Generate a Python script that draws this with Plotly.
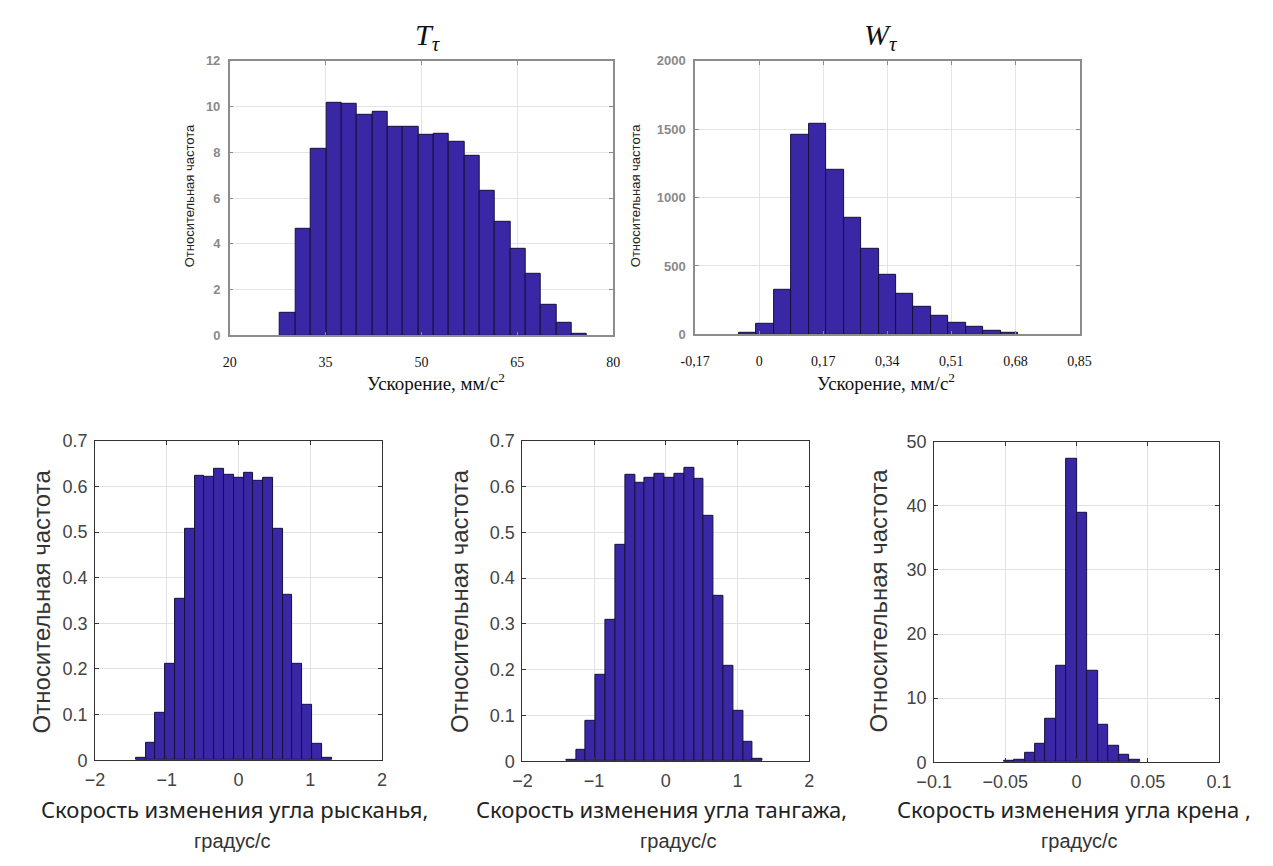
import plotly.graph_objects as go

W, H = 1273, 866

# --- histogram data: first bin edge, bin width, relative frequencies ---
t_start = 27.9
t_width = 2.4
t_freq = [1.0, 4.67, 8.16, 10.18, 10.14, 9.65, 9.75, 9.11, 9.11, 8.75,
          8.8, 8.46, 7.84, 6.31, 4.98, 3.77, 2.68, 1.34, 0.54, 0.06]

w_start = -0.0533
w_width = 0.0463
w_freq = [14, 79, 329, 1460, 1540, 1202, 852, 624, 433, 300,
          200, 136, 86, 52, 26, 10]

yaw_start = -1.43
yaw_width = 0.1365
yaw_freq = [0.005, 0.039, 0.105, 0.212, 0.354, 0.507, 0.624, 0.621, 0.639, 0.626,
            0.619, 0.629, 0.612, 0.619, 0.507, 0.362, 0.212, 0.121, 0.037, 0.005]

pitch_start = -1.389
pitch_width = 0.137
pitch_freq = [0.004, 0.026, 0.088, 0.188, 0.309, 0.472, 0.626, 0.608, 0.619, 0.629,
              0.619, 0.629, 0.642, 0.618, 0.537, 0.362, 0.209, 0.11, 0.043, 0.006]

roll_start = -0.0511
roll_width = 0.00734
roll_freq = [0.2, 0.4, 1.4, 2.8, 6.7, 15.1, 47.4, 38.9, 14.2, 5.8, 2.5, 1.1, 0.4]

# tick labels of the upper-right panel (comma decimals)
w_tickvals = [-0.17, 0, 0.17, 0.34, 0.51, 0.68, 0.85]
w_ticktext = ["-0,17", "0", "0,17", "0,34", "0,51", "0,68", "0,85"]

ylabel = "Относительная частота"
acc_label = "Ускорение, мм/с<sup>2</sup>"
yaw_label = "Скорость изменения угла рысканья,"
pitch_label = "Скорость изменения угла тангажа,"
roll_label = "Скорость изменения угла крена ,"
unit_label = "градус/с"

BAR_FILL = "#3a27a6"
BAR_EDGE = "#15103a"


def px(x):
    return x / W


def py(y):
    return 1 - y / H


def hist_trace(start, width, freq, xa, ya):
    centers = [start + width * (i + 0.5) for i in range(len(freq))]
    return go.Bar(x=centers, y=freq, width=width, xaxis=xa, yaxis=ya,
                  marker=dict(color=BAR_FILL, line=dict(color=BAR_EDGE, width=1)),
                  showlegend=False, hoverinfo="x+y")


fig = go.Figure()
fig.add_trace(hist_trace(t_start, t_width, t_freq, "x", "y"))
fig.add_trace(hist_trace(w_start, w_width, w_freq, "x2", "y2"))
fig.add_trace(hist_trace(yaw_start, yaw_width, yaw_freq, "x3", "y3"))
fig.add_trace(hist_trace(pitch_start, pitch_width, pitch_freq, "x4", "y4"))
fig.add_trace(hist_trace(roll_start, roll_width, roll_freq, "x5", "y5"))

# upper panels: grey frame, serif x tick labels, small grey y tick labels
top_common = dict(showline=True, linecolor="#8c8c8c", linewidth=1.5, mirror="ticks",
                  ticks="inside", ticklen=4, tickcolor="#8c8c8c",
                  showgrid=True, gridcolor="#e4e4e4", gridwidth=1, zeroline=False)
top_x_font = dict(family="Liberation Serif", size=14, color="#111")
top_y_font = dict(family="Liberation Sans", size=13, color="#8a8a8a", weight="bold")

bot_common = dict(showline=True, linecolor="#333", linewidth=1, mirror="ticks",
                  ticks="inside", ticklen=4, tickcolor="#333",
                  showgrid=True, gridcolor="#e2e2e2", gridwidth=1, zeroline=False)
bot_font = dict(family="Liberation Sans", size=18, color="#444")

layout = dict(
    width=W, height=H, margin=dict(l=0, r=0, t=0, b=0),
    paper_bgcolor="white", plot_bgcolor="white", bargap=0,
    xaxis=dict(domain=[px(217), px(610)], range=[20, 80],
               tickvals=[20, 35, 50, 65, 80], tickfont=top_x_font,
               ticklabelstandoff=13, anchor="y", **top_common),
    yaxis=dict(domain=[py(333), py(52)], range=[0, 12], dtick=2,
               tickfont=top_y_font, ticklabelstandoff=5, anchor="x", **top_common),
    xaxis2=dict(domain=[px(694), px(1088)], range=[-0.17, 0.85],
                tickvals=w_tickvals, ticktext=w_ticktext, tickfont=top_x_font,
                ticklabelstandoff=13, anchor="y2", **top_common),
    yaxis2=dict(domain=[py(332), py(52)], range=[0, 2000], dtick=500,
                tickfont=top_y_font, ticklabelstandoff=5, anchor="x2", **top_common),
    xaxis3=dict(domain=[px(79), px(373)], range=[-2, 2], dtick=1,
                tickfont=bot_font, ticklabelstandoff=3, anchor="y3", **bot_common),
    yaxis3=dict(domain=[py(768), py(441)], range=[0, 0.7], dtick=0.1,
                tickfont=bot_font, ticklabelstandoff=3, anchor="x3", **bot_common),
    xaxis4=dict(domain=[px(517), px(811)], range=[-2, 2], dtick=1,
                tickfont=bot_font, ticklabelstandoff=3, anchor="y4", **bot_common),
    yaxis4=dict(domain=[py(769), py(441)], range=[0, 0.7], dtick=0.1,
                tickfont=bot_font, ticklabelstandoff=3, anchor="x4", **bot_common),
    xaxis5=dict(domain=[px(939), px(1231)], range=[-0.1, 0.1], dtick=0.05,
                tickfont=bot_font, ticklabelstandoff=3, anchor="y5", **bot_common),
    yaxis5=dict(domain=[py(770), py(442)], range=[0, 50], dtick=10,
                tickfont=bot_font, ticklabelstandoff=3, anchor="x5", **bot_common),
)
fig.update_layout(**layout)


def label(text, x, y, font, angle=0):
    fig.add_annotation(text=text, x=px(x), y=py(y), xref="paper", yref="paper",
                       showarrow=False, textangle=angle, font=font,
                       xanchor="center", yanchor="middle")


title_font = dict(family="Liberation Serif", size=30, color="#111")
label("<i>T</i><sub><i>τ</i></sub>", 420, 28, title_font)
label("<i>W</i><sub><i>τ</i></sub>", 885, 28, title_font)

acc_font = dict(family="Liberation Serif", size=19, color="#111")
label(acc_label, 428, 381, acc_font)
label(acc_label, 890, 381, acc_font)

small_y = dict(family="Liberation Sans", size=13, color="#222")
label(ylabel, 176, 190, small_y, -90)
label(ylabel, 633, 190, small_y, -90)

big_y = dict(family="Liberation Sans", size=24, color="#333")
label(ylabel, 24, 605, big_y, -90)
label(ylabel, 452, 605, big_y, -90)
label(ylabel, 882, 605, big_y, -90)

cap_font = dict(family="Noto Sans", size=22, color="#222")
unit_font = dict(family="Liberation Sans", size=20, color="#333")
label(yaw_label, 222, 818, cap_font)
label(unit_label, 220, 851, unit_font)
label(pitch_label, 660, 818, cap_font)
label(unit_label, 677, 851, unit_font)
label(roll_label, 1082, 818, cap_font)
label(unit_label, 1088, 851, unit_font)

fig.write_html("out.html")
